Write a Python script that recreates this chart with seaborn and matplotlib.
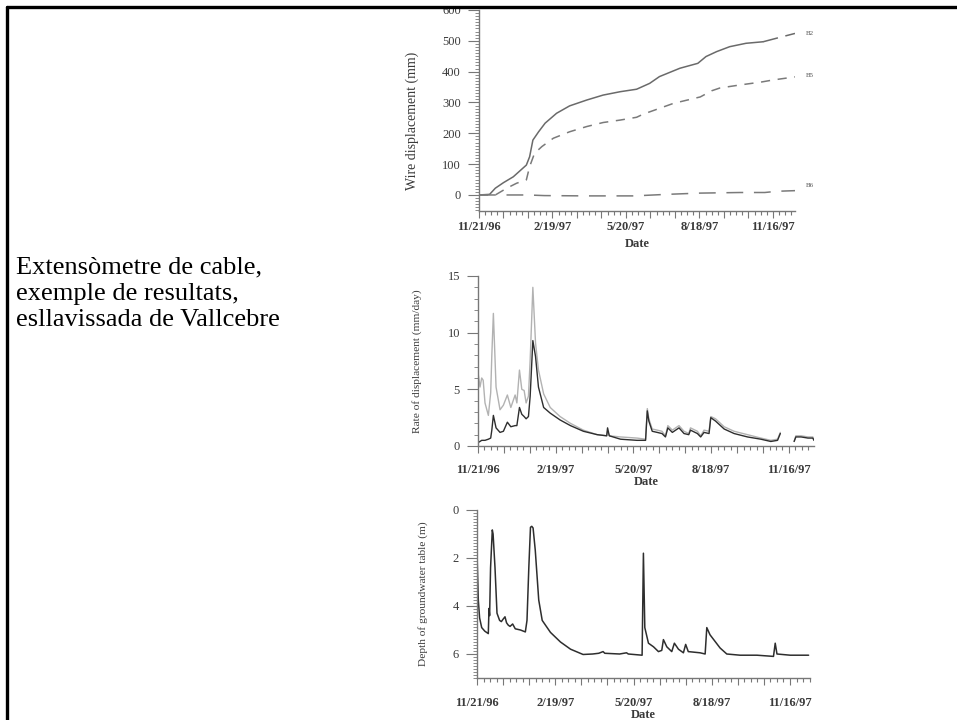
import matplotlib
matplotlib.use("Agg")
import pandas as pd
import matplotlib.pyplot as plt
import seaborn as sns
from matplotlib.lines import Line2D
from matplotlib.ticker import MultipleLocator, FuncFormatter

sns.set_style("ticks")
plt.rcParams["font.family"] = ["Liberation Serif", "DejaVu Serif"]

# x axis = days since 11/21/96
TICK_DAYS = [0, 90, 180, 270, 360]
TICK_LABELS = ["11/21/96", "2/19/97", "5/20/97", "8/18/97", "11/16/97"]

# --- wire displacement (mm) ---
B2_DAYS = [0, 13, 20, 30, 42, 58, 62, 66, 73, 81, 95, 111, 132, 152, 173, 193, 209, 221, 246, 268, 278, 291, 307, 327, 348]
B2_MM = [0, 2, 22, 40, 59, 97, 124, 178, 205, 233, 265, 289, 308, 324, 335, 343, 362, 384, 411, 427, 449, 465, 481, 492, 497]
B2_END_DAYS = [348, 368, 387]
B2_END_MM = [497, 511, 524]
B5_DAYS = [0, 20, 34, 46, 58, 62, 68, 77, 91, 111, 132, 152, 173, 193, 201, 238, 271, 285, 295, 320, 345, 360, 387]
B5_MM = [0, 0, 22, 38, 49, 92, 135, 157, 184, 205, 222, 235, 243, 252, 262, 297, 318, 338, 347, 357, 366, 373, 383]
B6_DAYS = [0, 60, 80, 130, 190, 230, 270, 320, 350, 365, 387]
B6_MM = [0, 0, -2, -3, -3, 2, 6, 8, 8, 12, 14]

# --- rate of displacement (mm/day), two segments separated by a data gap ---
RATE_DAYS = [0, 2.3, 4.3, 6, 8.1, 12, 14.7, 16, 17.8, 20.9, 25.5, 29.4, 34, 38, 43, 45, 48, 50.7, 53.4, 55.7,
             58.4, 60.4, 63.5, 66.6, 70, 76, 83.6, 95, 107, 122, 138, 149, 150, 152, 165, 184, 194, 196,
             197.8, 201.7, 207.5, 213, 217, 219.8, 225, 232.7, 238.5, 244, 246, 254, 257.8, 261.7, 267.5,
             269.5, 275, 285, 296.5, 312, 327.5, 339, 346.8, 350,
             366, 368, 374, 382, 387.6, 389]
RATE_SEG = [1] * 62 + [2] * 6
RATE_GREY = [6.5, 5.2, 6.0, 5.8, 3.8, 2.7, 4.7, 8.0, 11.7, 5.2, 3.2, 3.6, 4.5, 3.4, 4.5, 3.8, 6.7, 5.0, 4.9, 3.8,
             4.4, 7.6, 14.0, 9.1, 6.7, 4.6, 3.4, 2.6, 2.0, 1.4, 1.0, 0.9, 1.3, 0.9, 0.8, 0.7, 0.6, 3.3,
             2.4, 1.5, 1.4, 1.3, 0.9, 1.8, 1.4, 1.8, 1.3, 1.1, 1.6, 1.3, 0.9, 1.4, 1.3,
             2.6, 2.4, 1.7, 1.3, 1.0, 0.7, 0.5, 0.6, 1.2,
             0.4, 0.9, 0.9, 0.8, 0.8, 0.5]
RATE_BLACK = [0.3, 0.4, 0.5, 0.5, 0.5, 0.6, 0.7, 1.4, 2.7, 1.6, 1.2, 1.3, 2.1, 1.7, 1.8, 1.8, 3.4, 2.8, 2.6, 2.4,
              2.6, 4.4, 9.3, 7.9, 5.2, 3.4, 2.9, 2.3, 1.8, 1.3, 1.0, 0.9, 1.6, 0.9, 0.6, 0.5, 0.5, 3.1,
              2.2, 1.3, 1.2, 1.1, 0.8, 1.6, 1.2, 1.6, 1.1, 1.0, 1.4, 1.1, 0.8, 1.2, 1.1,
              2.5, 2.2, 1.5, 1.1, 0.8, 0.6, 0.4, 0.5, 1.1,
              0.4, 0.8, 0.8, 0.7, 0.7, 0.5]

# --- depth of groundwater table (m) ---
DEPTH_DAYS = [0, 1.5, 3, 5.4, 9, 13, 13.8, 14.5, 15.6, 17.6, 18.5, 20.7, 23, 26, 28, 30, 32.2, 34, 36, 38, 41, 44,
              50, 55.6, 57.5, 59.6, 61.5, 63, 64.5, 67, 71, 75, 84.5, 96, 107.6, 122, 133, 140, 145, 147, 164,
              172, 174, 189.9, 191.4, 193, 197.2, 203, 208.7, 212.5, 214.4, 218.3, 224, 227, 231.7, 237.4,
              240, 243, 256.6, 262.4, 264.3, 268, 279.6, 287.3, 302.6, 322, 341, 343, 345, 360.3, 381.4]
DEPTH_M = [1.8, 3.75, 4.5, 4.9, 5.05, 5.15, 4.1, 4.4, 2.4, 0.83, 1.0, 2.4, 4.3, 4.6, 4.65, 4.55, 4.45, 4.7, 4.8,
           4.85, 4.75, 4.95, 5.0, 5.08, 4.6, 2.4, 0.72, 0.68, 0.75, 1.67, 3.75, 4.6, 5.1, 5.5, 5.8, 6.02, 6.0,
           5.97, 5.9, 5.97, 6.0, 5.95, 6.0, 6.05, 1.8, 4.9, 5.55, 5.7, 5.9, 5.85, 5.4, 5.7, 5.9, 5.55, 5.8,
           5.95, 5.6, 5.9, 5.95, 6.0, 4.9, 5.2, 5.75, 6.0, 6.05, 6.05, 6.1, 5.55, 6.0, 6.05, 6.05]

AXIS_GREY = "#777777"
TEXT_GREY = "#3a3a3a"

fig = plt.figure(figsize=(9.57, 7.2), dpi=100)


def date_fmt(v, pos):
    for d, lab in zip(TICK_DAYS, TICK_LABELS):
        if abs(v - d) < 0.5:
            return lab
    return ""


def style(ax, xmax, ypad):
    sns.despine(ax=ax)
    for s in ["left", "bottom"]:
        ax.spines[s].set_color(AXIS_GREY)
        ax.spines[s].set_linewidth(1.0)
    ax.set_xlim(0, xmax)
    ax.xaxis.set_major_locator(MultipleLocator(30))
    ax.xaxis.set_minor_locator(MultipleLocator(7.5))
    ax.xaxis.set_major_formatter(FuncFormatter(date_fmt))
    ax.tick_params(axis="x", which="major", length=5, width=0.8, color=AXIS_GREY,
                   labelsize=9, labelcolor=TEXT_GREY, pad=ypad)
    ax.tick_params(axis="x", which="minor", length=3, width=0.8, color=AXIS_GREY)
    ax.tick_params(axis="y", which="major", length=8, width=0.8, color=AXIS_GREY,
                   labelsize=9, labelcolor=TEXT_GREY, pad=5)
    ax.tick_params(axis="y", which="minor", length=3, width=0.6, color=AXIS_GREY)
    for lab in ax.get_xticklabels():
        lab.set_fontweight("bold")
    ax.set_facecolor("none")


# ---------------- panel 1 ----------------
ax1 = fig.add_axes([479 / 957, 1 - 211 / 720, 316 / 957, 201 / 720])
sns.lineplot(x=B2_DAYS, y=B2_MM, ax=ax1, color="#6a6a6a", lw=1.1, estimator=None, sort=False)
sns.lineplot(x=B2_END_DAYS, y=B2_END_MM, ax=ax1, color="#6a6a6a", lw=1.1, estimator=None,
             sort=False, dashes=False, linestyle=(0, (10, 5)))
sns.lineplot(x=B5_DAYS, y=B5_MM, ax=ax1, color="#7a7a7a", lw=1.1, estimator=None,
             sort=False, linestyle=(0, (6, 5)))
sns.lineplot(x=B6_DAYS, y=B6_MM, ax=ax1, color="#7a7a7a", lw=1.1, estimator=None,
             sort=False, linestyle=(0, (11, 7)))
ax1.set_ylim(-52, 600)
ax1.yaxis.set_major_locator(MultipleLocator(100))
ax1.yaxis.set_minor_locator(MultipleLocator(10))
style(ax1, 387, 2)
ax1.set_xlabel("Date", fontsize=9, fontweight="bold", color=TEXT_GREY, labelpad=4)
ax1.set_ylabel("Wire displacement (mm)", fontsize=10, color=TEXT_GREY)
ax1.yaxis.set_label_coords(-0.19, 0.45)
for name, yv in [("B2", 525), ("B5", 386), ("B6", 32)]:
    ax1.text(400, yv, name, fontsize=5, color="#555555", va="center", ha="left", clip_on=False)

# ---------------- panel 2 ----------------
ax2 = fig.add_axes([478 / 957, 1 - 446 / 720, 336 / 957, 170 / 720])
rate = pd.DataFrame({"day": RATE_DAYS, "seg": RATE_SEG, "grey": RATE_GREY, "black": RATE_BLACK})
sns.lineplot(data=rate, x="day", y="grey", units="seg", estimator=None, ax=ax2,
             color="#b2b2b2", lw=1.0, sort=False)
sns.lineplot(data=rate, x="day", y="black", units="seg", estimator=None, ax=ax2,
             color="#2e2e2e", lw=1.0, sort=False)
ax2.set_ylim(0, 15)
ax2.yaxis.set_major_locator(MultipleLocator(5))
ax2.yaxis.set_minor_locator(MultipleLocator(1))
style(ax2, 389, 8)
ax2.set_xlabel("Date", fontsize=9, fontweight="bold", color=TEXT_GREY, labelpad=0)
ax2.set_ylabel("Rate of displacement (mm/day)", fontsize=8.2, color=TEXT_GREY)
ax2.yaxis.set_label_coords(-0.167, 0.5)

# ---------------- panel 3 ----------------
ax3 = fig.add_axes([477 / 957, 1 - 678 / 720, 333 / 957, 168 / 720])
sns.lineplot(x=DEPTH_DAYS, y=DEPTH_M, ax=ax3, color="#2e2e2e", lw=1.1, estimator=None, sort=False)
ax3.set_ylim(7, 0)
ax3.yaxis.set_major_locator(MultipleLocator(2))
ax3.yaxis.set_minor_locator(MultipleLocator(0.125))
style(ax3, 383, 8.5)
ax3.set_xlabel("Date", fontsize=9, fontweight="bold", color=TEXT_GREY, labelpad=0)
ax3.set_ylabel("Depth of groundwater table (m)", fontsize=8.2, color=TEXT_GREY)
ax3.yaxis.set_label_coords(-0.147, 0.5)

# caption and frame
fig.text(16 / 957, 1 - 294 / 720, "Extensòmetre de cable,\nexemple de resultats,\nesllavissada de Vallcebre",
         fontsize=19, va="center", ha="left", linespacing=1.25, color="black")
fig.add_artist(Line2D([0.0075, 1.0], [1 - 6.5 / 720, 1 - 6.5 / 720], color="black", lw=2.4,
                      transform=fig.transFigure))
fig.add_artist(Line2D([7.5 / 957, 7.5 / 957], [0.0, 1 - 6.5 / 720], color="black", lw=2.4,
                      transform=fig.transFigure))

fig.savefig("out.png", dpi=100)
